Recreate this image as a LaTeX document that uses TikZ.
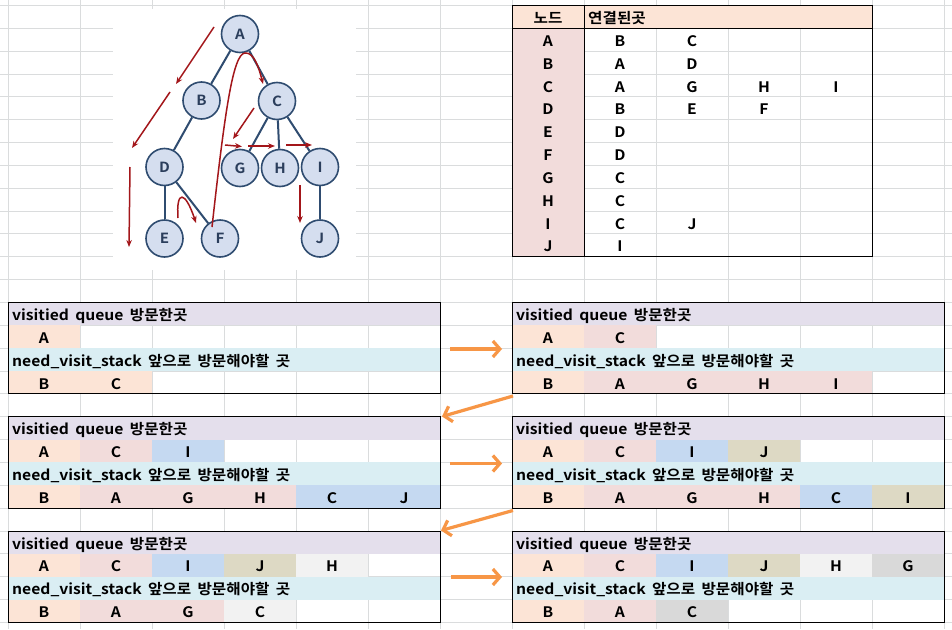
\documentclass[tikz,border=0pt]{standalone}
\usepackage{fontspec}
\setmainfont{Noto Sans CJK KR}[BoldFont={Noto Sans CJK KR Bold},FakeStretch=1.08]
\usetikzlibrary{arrows.meta}
\definecolor{gridc}{HTML}{DADCDD}
\definecolor{lavc}{HTML}{E4DFEC}
\definecolor{sblue}{HTML}{DAEEF3}
\definecolor{peach}{HTML}{FCE4D6}
\definecolor{pinkc}{HTML}{F2DCDB}
\definecolor{bluec}{HTML}{C5D9F1}
\definecolor{tanc}{HTML}{DDD9C4}
\definecolor{lgray}{HTML}{F2F2F2}
\definecolor{dgray}{HTML}{D9D9D9}
\definecolor{gfill}{HTML}{D5DEEF}
\definecolor{gline}{HTML}{2F4C70}
\definecolor{gtext}{HTML}{2B3E5C}
\definecolor{redc}{HTML}{A3161A}
\definecolor{orc}{HTML}{F79646}
\newcommand\rowh{22.85}
\newcommand\ttlfont{\fontsize{14.5pt}{16pt}\selectfont\bfseries\spaceskip 6.3pt\relax}
\newcommand\qsbox[5]{%
  \fill[lavc] (#1,#2) rectangle ++(432,\rowh);
  \fill[sblue] (#1,#2+2*\rowh) rectangle ++(432,\rowh);
  \foreach \c/\t [count=\i from 0] in {#4}{%
    \fill[\c] (#1+72*\i,#2+\rowh) rectangle ++(72,\rowh);
    \node[cellt] (#3v\i) at (#1+72*\i+36,#2+\rowh+18) {\t};}
  \foreach \c/\t [count=\i from 0] in {#5}{%
    \fill[\c] (#1+72*\i,#2+3*\rowh) rectangle ++(72,\rowh);
    \node[cellt] (#3s\i) at (#1+72*\i+36,#2+3*\rowh+18) {\t};}
  \draw[boxline] (#1,#2) rectangle ++(432,4*\rowh);
  \node[ttl] (#3q) at (#1+4,#2+18) {visitied queue 방문한곳};
  \node[ttl] (#3n) at (#1+4,#2+2*\rowh+18) {need\_visit\_stack 앞으로 방문해야할 곳};
}
\begin{document}
\begin{tikzpicture}[x=1pt,y=-1pt,
  gridl/.style={gridc,line width=1pt},
  boxline/.style={black,line width=1pt},
  cellt/.style={anchor=base,inner sep=0pt,font=\fontsize{14.5pt}{16pt}\selectfont\bfseries},
  ttl/.style={anchor=base west,inner sep=0pt,font=\ttlfont},
  gnode/.style={circle,draw=gline,fill=gfill,line width=1.6pt,minimum size=37pt,inner sep=0pt,
     text=gtext,font=\fontsize{14pt}{15pt}\selectfont\bfseries},
  gedge/.style={gline,line width=2pt},
  redarr/.style={redc,line width=1.5pt,-{Stealth[length=7pt,width=5.5pt]}},
  orarr/.style={orc,line width=3.2pt,-{Straight Barb[length=7pt,width=16pt]}}]
\useasboundingbox (0,0) rectangle (952,629);
\fill[white] (0,0) rectangle (952,629);
% grid
\foreach \k in {0,...,27}{\draw[gridl] (0,5.45+\k*\rowh) -- (952,5.45+\k*\rowh);}
\foreach \k in {0,...,13}{\draw[gridl] (8+72*\k,0) -- (8+72*\k,629);}
% graph picture
\fill[white] (113,9) rectangle (356,270);
\node[gnode] (nA) at (240,34) {A};
\node[gnode] (nB) at (201.5,100.5) {B};
\node[gnode] (nC) at (277,101) {C};
\node[gnode] (nD) at (164.5,167) {D};
\node[gnode] (nG) at (240,168) {G};
\node[gnode] (nH) at (280,168) {H};
\node[gnode] (nI) at (320,167) {I};
\node[gnode] (nE) at (164.5,238.5) {E};
\node[gnode] (nF) at (220,238.5) {F};
\node[gnode] (nJ) at (320,238.5) {J};
\foreach \a/\b in {A/B,A/C,B/D,C/G,C/H,C/I,D/E,D/F,I/J}{\draw[gedge] (n\a) -- (n\b);}
% red arrows
\coordinate (r1s) at (214,27); \coordinate (r1e) at (176,84);
\coordinate (r2s) at (170,92); \coordinate (r2e) at (132,148);
\coordinate (r3s) at (130,167); \coordinate (r3e) at (129,247);
\coordinate (r4s) at (178,218); \coordinate (r4e) at (196,223);
\coordinate (r5s) at (212,227); \coordinate (r5m) at (245,53); \coordinate (r5e) at (263,84);
\coordinate (r6s) at (254,108); \coordinate (r6e) at (233,139);
\coordinate (r7s) at (225,145); \coordinate (r7e) at (242,146.5);
\coordinate (r8s) at (248,146); \coordinate (r8e) at (275,146);
\coordinate (r9s) at (286,145); \coordinate (r9e) at (312,145);
\coordinate (r10s) at (300,185); \coordinate (r10e) at (300,223);
\draw[redarr] (r1s) -- (r1e);
\draw[redarr] (r2s) -- (r2e);
\draw[redarr] (r3s) -- (r3e);
\draw[redarr] (r4s) .. controls (176,190) and (185,190) .. (r4e);
\draw[redarr] (r5s) .. controls (225,110) and (233,54) .. (r5m) .. controls (254,52) and (259,68) .. (r5e);
\draw[redarr] (r6s) -- (r6e);
\draw[redarr] (r7s) -- (r7e);
\draw[redarr] (r8s) -- (r8e);
\draw[redarr] (r9s) -- (r9e);
\draw[redarr] (r10s) -- (r10e);
% adjacency table
\fill[peach] (512,5.45) rectangle (872,5.45+\rowh);
\fill[pinkc] (512,5.45+\rowh) rectangle (584,5.45+11*\rowh);
\draw[boxline] (512,5.45) rectangle (872,5.45+11*\rowh);
\draw[boxline] (584,5.45) -- (584,5.45+11*\rowh);
\draw[boxline] (512,5.45+\rowh) -- (872,5.45+\rowh);
\node[cellt] (th1) at (548,5.45+18) {노드};
\node[ttl] (th2) at (588,5.45+18) {연결된곳};
\foreach \n/\lst [count=\r] in {A/{B,C},B/{A,D},C/{A,G,H,I},D/{B,E,F},E/{D},F/{D},G/{C},H/{C},I/{C,J},J/{I}}{%
  \node[cellt] (tr\r) at (548,5.45+\r*\rowh+18) {\n};
  \foreach \m [count=\k] in \lst {\node[cellt] (tc\r-\k) at (548+72*\k,5.45+\r*\rowh+18) {\m};}
}
% step boxes
\qsbox{8}{302.5}{ba}{peach/A}{peach/B,peach/C}
\qsbox{512}{302.5}{bb}{peach/A,pinkc/C}{peach/B,pinkc/A,pinkc/G,pinkc/H,pinkc/I}
\qsbox{8}{416.75}{bc}{peach/A,pinkc/C,bluec/I}{peach/B,pinkc/A,pinkc/G,pinkc/H,bluec/C,bluec/J}
\qsbox{512}{416.75}{bd}{peach/A,pinkc/C,bluec/I,tanc/J}{peach/B,pinkc/A,pinkc/G,pinkc/H,bluec/C,tanc/I}
\qsbox{8}{531}{be}{peach/A,pinkc/C,bluec/I,tanc/J,lgray/H}{peach/B,pinkc/A,pinkc/G,lgray/C}
\qsbox{512}{531}{bf}{peach/A,pinkc/C,bluec/I,tanc/J,lgray/H,dgray/G}{peach/B,pinkc/A,dgray/C}
% orange arrows
\coordinate (o1s) at (450,349); \coordinate (o1e) at (502,349);
\coordinate (d1s) at (513,396); \coordinate (d1e) at (442,416.5);
\coordinate (o2s) at (450,463.5); \coordinate (o2e) at (502,463.5);
\coordinate (d2s) at (513,510.5); \coordinate (d2e) at (441,530.5);
\coordinate (o3s) at (451,577); \coordinate (o3e) at (502,577);
\draw[orarr] (o1s) -- (o1e);
\draw[orarr] (d1s) -- (d1e);
\draw[orarr] (o2s) -- (o2e);
\draw[orarr] (d2s) -- (d2e);
\draw[orarr] (o3s) -- (o3e);
\end{tikzpicture}
\end{document}
